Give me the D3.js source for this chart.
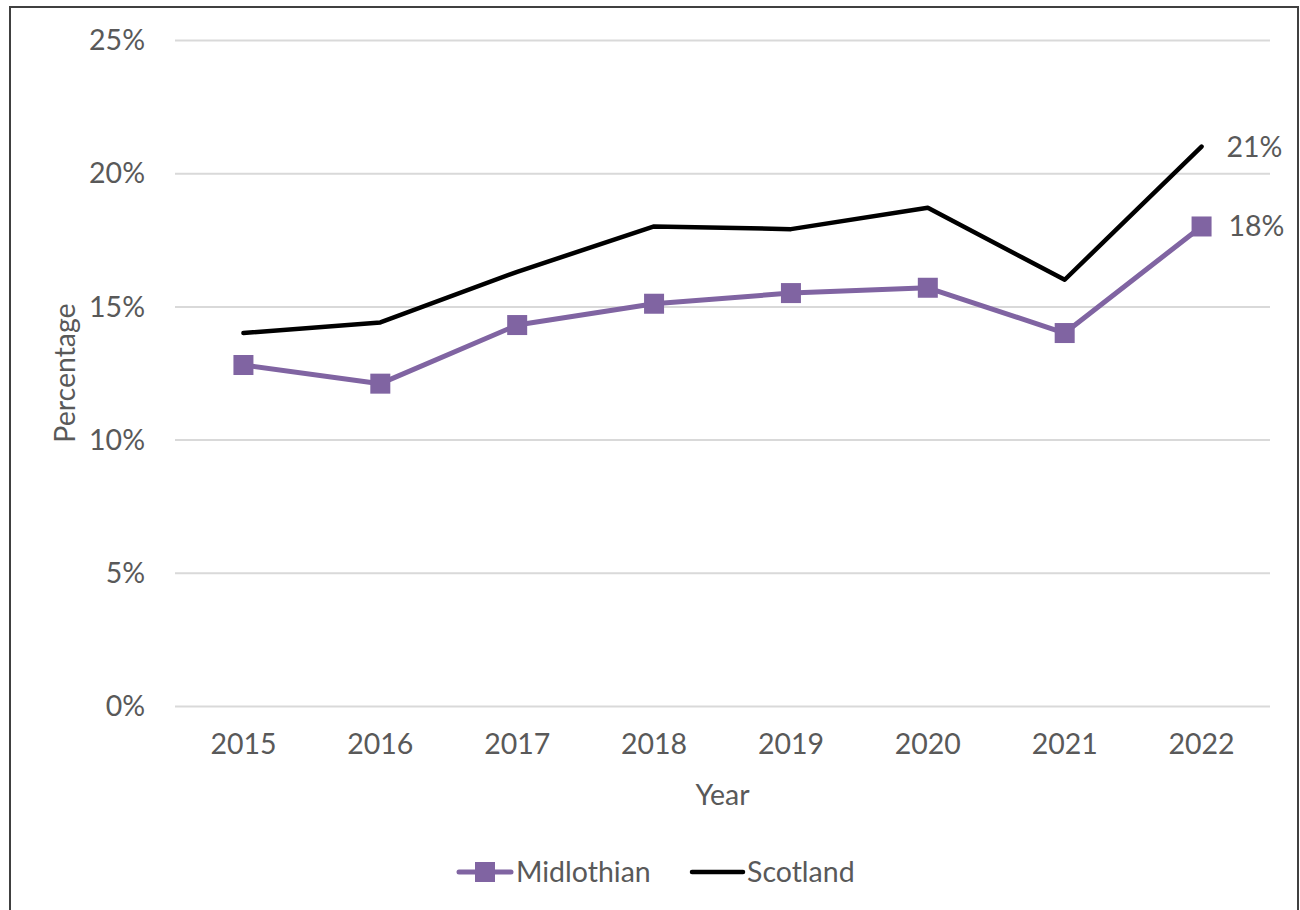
<!DOCTYPE html>
<html>
<head>
<meta charset="utf-8">
<script src="https://cdn.jsdelivr.net/npm/d3@7"></script>
<style>
  html, body { margin: 0; padding: 0; background: #fff; }
  svg { display: block; }
  text { font-family: Lato, "Open Sans", sans-serif; fill: #595959; }
</style>
</head>
<body>
<svg id="chart" width="1300" height="910"></svg>
<script>
// Chart data
const years = ["2015", "2016", "2017", "2018", "2019", "2020", "2021", "2022"];
const midlothian = [12.8, 12.1, 14.3, 15.1, 15.5, 15.7, 14.0, 18.0];
const scotland = [14.0, 14.4, 16.3, 18.0, 17.9, 18.7, 16.0, 21.0];
const yTicks = [0, 5, 10, 15, 20, 25];
const endLabels = ["18%", "21%"];

const svg = d3.select("#chart");
const W = 1300, H = 910;
const m = { left: 175, right: 30, top: 40, bottom: 204 };
const FS = "28.5px";

// Outer frame (bottom edge falls outside the window)
svg.append("path")
  .attr("d", `M10,${H + 2} V7 H1298 V${H + 2}`)
  .attr("fill", "none").attr("stroke", "#404040").attr("stroke-width", 2);

const x = d3.scaleBand().domain(years).range([m.left, W - m.right]);
const y = d3.scaleLinear().domain([0, 25]).range([H - m.bottom, m.top]);
const cx = d => x(d) + x.bandwidth() / 2;

// Gridlines and y tick labels
const yAxis = d3.axisLeft(y).tickValues(yTicks).tickFormat(d => d + "%")
  .tickSize(-(W - m.left - m.right)).tickPadding(30);
const gy = svg.append("g").attr("transform", `translate(${m.left},0)`).call(yAxis);
gy.select(".domain").remove();
gy.selectAll(".tick line").attr("stroke", "#d9d9d9").attr("stroke-width", 2);
gy.selectAll(".tick text").style("font-size", FS).attr("fill", "#595959").attr("dy", "0.34em");

// x tick labels
const xAxis = d3.axisBottom(x).tickSize(0).tickPadding(28);
const gx = svg.append("g").attr("transform", `translate(0,${H - m.bottom})`).call(xAxis);
gx.select(".domain").remove();
gx.selectAll(".tick text").style("font-size", FS).attr("fill", "#595959");

// Axis titles
svg.append("text").attr("x", cx("2018") + x.bandwidth() / 2).attr("y", 805)
  .attr("text-anchor", "middle").style("font-size", FS).text("Year");
svg.append("text").attr("transform", `translate(75,${(y(0) + y(25)) / 2}) rotate(-90)`)
  .attr("text-anchor", "middle").style("font-size", FS).text("Percentage");

const line = d3.line().x((d, i) => cx(years[i])).y(d => y(d));

// Scotland series
svg.append("path").datum(scotland).attr("d", line)
  .attr("fill", "none").attr("stroke", "#000").attr("stroke-width", 4.5)
  .attr("stroke-linejoin", "round").attr("stroke-linecap", "round");

// Midlothian series
const purple = "#8064a2";
svg.append("path").datum(midlothian).attr("d", line)
  .attr("fill", "none").attr("stroke", purple).attr("stroke-width", 5)
  .attr("stroke-linejoin", "round").attr("stroke-linecap", "round");
const sq = 20;
svg.selectAll("rect.mk").data(midlothian).join("rect").attr("class", "mk")
  .attr("x", (d, i) => cx(years[i]) - sq / 2).attr("y", d => y(d) - sq / 2)
  .attr("width", sq).attr("height", sq).attr("fill", purple);

// End-of-line value labels
const last = years.length - 1;
svg.append("text").attr("x", cx(years[last]) + 27).attr("y", y(midlothian[last]) + 10)
  .style("font-size", FS).attr("fill", "#404040").text(endLabels[0]);
svg.append("text").attr("x", cx(years[last]) + 25).attr("y", y(scotland[last]) + 10)
  .style("font-size", FS).attr("fill", "#404040").text(endLabels[1]);

// Legend
const ly = 872;
const lg = svg.append("g");
lg.append("line").attr("x1", 459).attr("x2", 511).attr("y1", ly).attr("y2", ly)
  .attr("stroke", purple).attr("stroke-width", 5).attr("stroke-linecap", "round");
lg.append("rect").attr("x", 475).attr("y", ly - 10).attr("width", sq).attr("height", sq).attr("fill", purple);
lg.append("text").attr("x", 516).attr("y", ly + 10).style("font-size", FS).text("Midlothian");
lg.append("line").attr("x1", 692).attr("x2", 743).attr("y1", ly).attr("y2", ly)
  .attr("stroke", "#000").attr("stroke-width", 4.5).attr("stroke-linecap", "round");
lg.append("text").attr("x", 747).attr("y", ly + 10).style("font-size", FS).text("Scotland");
</script>
</body>
</html>
